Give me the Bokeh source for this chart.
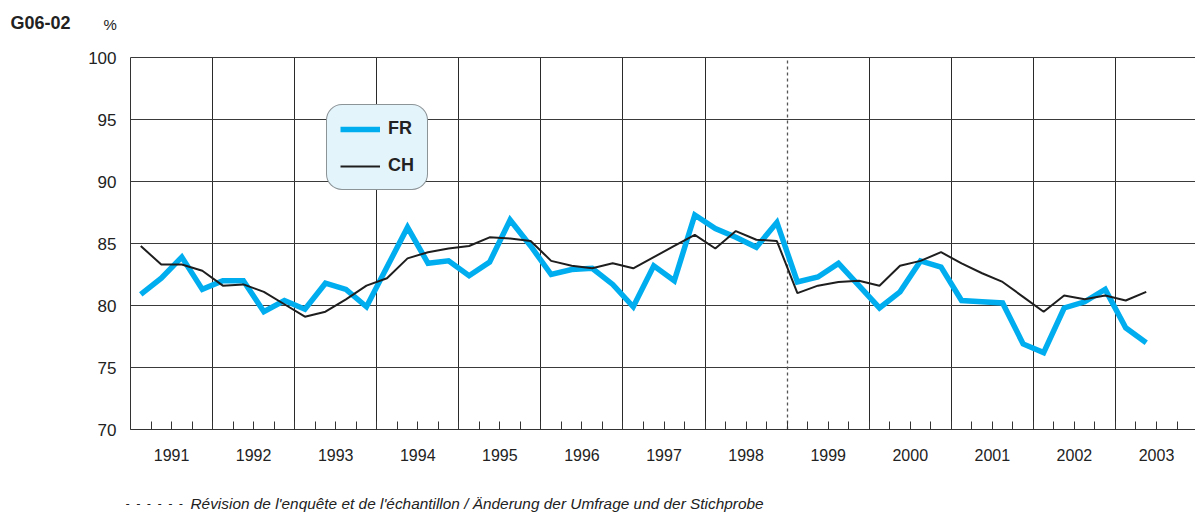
from bokeh.plotting import figure
from bokeh.models import (Range1d, FixedTicker, Grid, Label, Legend, LegendItem,
                          ColumnDataSource)
from bokeh.embed import file_html
from bokeh.resources import INLINE

# ---------------- data ----------------
years = list(range(1991, 2004))
year_labels = [str(y) for y in years]
revision_year = 1999
y_ticks = [70, 75, 80, 85, 90, 95, 100]

periods = [f"{y}Q{q}" for y in range(1991, 2003) for q in (1, 2, 3, 4)] + ["2003Q1", "2003Q2"]

fr = [80.9, 82.2, 83.9, 81.3,
      82.0, 82.0, 79.5, 80.4,
      79.7, 81.8, 81.3, 79.9,
      83.1, 86.3, 83.4, 83.6,
      82.4, 83.5, 86.9, 84.8,
      82.5, 82.9, 83.0, 81.7,
      79.9, 83.2, 82.0, 87.3,
      86.2, 85.5, 84.7, 86.7,
      81.9, 82.3, 83.4, 81.6,
      79.8, 81.1, 83.6, 83.1,
      80.4, 80.3, 80.2, 76.9,
      76.2, 79.8, 80.3, 81.3,
      78.2, 77.0]

ch = [84.8, 83.3, 83.3, 82.8,
      81.6, 81.7, 81.1, 80.1,
      79.1, 79.5, 80.5, 81.6,
      82.2, 83.8, 84.3, 84.6,
      84.8, 85.5, 85.4, 85.2,
      83.6, 83.2, 83.0, 83.4,
      83.0, 83.9, 84.8, 85.7,
      84.6, 86.0, 85.3, 85.2,
      81.0, 81.6, 81.9, 82.0,
      81.6, 83.2, 83.6, 84.3,
      83.4, 82.6, 81.9, 80.7,
      79.5, 80.8, 80.5, 80.8,
      80.4, 81.1]

# x position of each quarter (centre of the quarter)
xq = [int(p[:4]) + (int(p[5]) - 0.5) / 4 for p in periods]
src = ColumnDataSource(dict(x=xq, fr=fr, ch=ch, period=periods))

FONT = "'Liberation Sans Narrow', 'Liberation Sans', Arial, sans-serif"
TXT = "#222222"

# ---------------- layout (the frame covers the whole canvas) ----------------
W, H = 1195, 512
PLOT_L, PLOT_T, PLOT_B = 130, 57, 429          # pixel position of the chart box
px_per_year = 82.08
px_per_unit = (PLOT_B - PLOT_T) / (y_ticks[-1] - y_ticks[0])
x0 = years[0] - PLOT_L / px_per_year
x1 = years[0] + (W - PLOT_L) / px_per_year
y1 = y_ticks[-1] + PLOT_T / px_per_unit
y0 = y_ticks[0] - (H - PLOT_B) / px_per_unit

p = figure(width=W, height=H, output_backend="svg", toolbar_location=None,
           x_range=Range1d(x0, x1), y_range=Range1d(y0, y1),
           min_border=0, min_border_left=0, min_border_right=0,
           min_border_top=0, min_border_bottom=0)
p.outline_line_color = None
p.background_fill_color = "white"
p.border_fill_color = "white"

# grid (lines limited to the chart box)
p.ygrid.ticker = FixedTicker(ticks=y_ticks[1:])
p.ygrid.grid_line_color = "#3a3a3a"
p.ygrid.grid_line_width = 1
p.ygrid.cross_bounds = (years[0], x1)
p.xgrid.ticker = FixedTicker(ticks=[y for y in years[1:] if y != revision_year])
p.xgrid.grid_line_color = "#2a2a2a"
p.xgrid.grid_line_width = 1
p.xgrid.cross_bounds = (y_ticks[0], y_ticks[-1])
p.add_layout(Grid(dimension=0, ticker=FixedTicker(ticks=[revision_year]),
                  grid_line_color="#555555", grid_line_dash="3 3",
                  grid_line_width=1.3, cross_bounds=(y_ticks[0], y_ticks[-1])))

# y axis (drawn at the left edge of the chart box)
p.yaxis.fixed_location = years[0]
p.yaxis.bounds = (y_ticks[0], y_ticks[-1])
p.yaxis.ticker = FixedTicker(ticks=y_ticks)
p.yaxis.major_tick_in = 0
p.yaxis.major_tick_out = 0
p.yaxis.minor_tick_line_color = None
p.yaxis.axis_line_color = "#333333"
p.yaxis.major_label_standoff = 14
p.yaxis.major_label_text_font = FONT
p.yaxis.major_label_text_font_size = "17px"
p.yaxis.major_label_text_color = TXT

# x axis: labels at year centres, ticks at quarter boundaries
mids = [y + 0.5 for y in years]
qb = [y + q / 4 for y in years for q in range(0, 4)]
p.xaxis.fixed_location = y_ticks[0]
p.xaxis.bounds = (years[0], x1)
p.xaxis.ticker = FixedTicker(ticks=mids, minor_ticks=qb)
p.xaxis.major_label_overrides = {m: lab for m, lab in zip(mids, year_labels)}
p.xaxis.major_tick_in = 0
p.xaxis.major_tick_out = 0
p.xaxis.minor_tick_in = 8
p.xaxis.minor_tick_out = 0
p.xaxis.minor_tick_line_color = "#333333"
p.xaxis.axis_line_color = "#333333"
p.xaxis.major_label_standoff = 19
p.xaxis.major_label_text_font = FONT
p.xaxis.major_label_text_font_size = "16px"
p.xaxis.major_label_text_color = TXT

# series
r_fr = p.line("x", "fr", source=src, line_color="#00aeef", line_width=5.5,
              line_join="miter")
r_ch = p.line("x", "ch", source=src, line_color="#1e1e1e", line_width=2)

legend = Legend(items=[LegendItem(label="FR", renderers=[r_fr]),
                       LegendItem(label="CH", renderers=[r_ch])],
                location=(326, H - 190), orientation="vertical")
legend.label_text_font = FONT
legend.label_text_font_style = "bold"
legend.label_text_font_size = "18px"
legend.label_text_color = TXT
legend.glyph_width = 40
legend.glyph_height = 18
legend.label_height = 18
legend.label_standoff = 8
legend.spacing = 16
legend.padding = 13
legend.margin = 0
legend.background_fill_color = "#e4f4fb"
legend.background_fill_alpha = 1
legend.border_line_color = "#333333"
legend.border_line_width = 1.3
if "border_radius" in Legend.properties():
    legend.border_radius = 16
p.add_layout(legend, "center")

# texts (screen units: pixels from the canvas' bottom-left corner)
NB = "\u00a0"
p.add_layout(Label(x=10, y=H - 22, x_units="screen", y_units="screen", text="G06-02",
                   text_font=FONT, text_font_style="bold", text_font_size="18px",
                   text_color=TXT, text_baseline="middle"))
p.add_layout(Label(x=103, y=H - 24, x_units="screen", y_units="screen", text="%",
                   text_font=FONT, text_font_size="15px",
                   text_color=TXT, text_baseline="middle"))
p.add_layout(Label(x=125, y=H - 503, x_units="screen", y_units="screen",
                   text=(NB * 2).join(["-"] * 6),
                   text_font=FONT, text_font_style="italic", text_font_size="12px",
                   text_color=TXT, text_baseline="middle"))
p.add_layout(Label(x=190, y=H - 503, x_units="screen", y_units="screen",
                   text="Révision de l'enquête et de l'échantillon / Änderung der Umfrage und der Stichprobe",
                   text_font=FONT, text_font_style="italic", text_font_size="15.4px",
                   text_color=TXT, text_baseline="middle"))

open("out.html", "w").write(file_html(p, INLINE))
